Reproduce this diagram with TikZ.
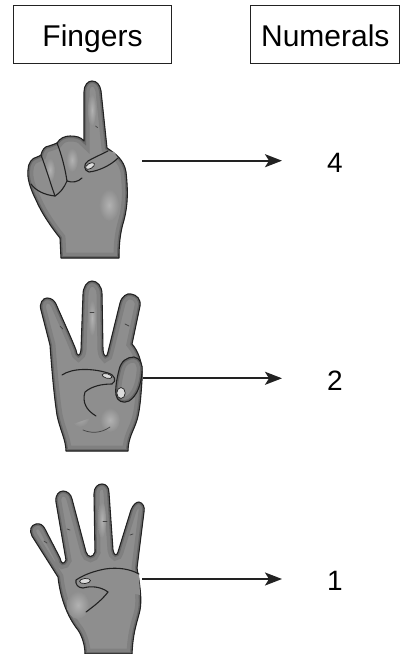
\documentclass[tikz,border=0pt]{standalone}
\usepackage{fontspec}
\setmainfont{Liberation Sans}
\usetikzlibrary{arrows.meta}

\definecolor{ink}{HTML}{222222}
\definecolor{skinbase}{HTML}{8E8E8E}
\definecolor{skinhi}{HTML}{B2B2B2}
\definecolor{skinmid}{HTML}{808080}
\definecolor{skinlo}{HTML}{686868}
\definecolor{nailgray}{HTML}{DCDCDC}

\tikzset{
  titlebox/.style={draw=ink, line width=1pt, inner sep=0pt, minimum height=58pt,
    text height=24pt, text depth=0pt, font=\fontsize{30}{36}\selectfont},
  numeral/.style={inner sep=0pt, anchor=base, font=\fontsize{28}{34}\selectfont},
  pointer/.style={draw=ink, line width=1.9pt, shorten >=45pt,
    -{Stealth[length=17pt,width=13pt,inset=4pt]}},
  rimwide/.style={draw=skinmid, line width=11pt},
  rimnarrow/.style={draw=skinlo, line width=4pt},
  glow/.style={inner color=skinhi, outer color=skinbase},
  contour/.style={draw=ink, line width=1.1pt, line cap=round, line join=round},
  crease/.style={draw=ink!85, line width=0.7pt, line cap=round},
  nail/.style={draw=ink, line width=0.7pt, fill=nailgray},
}

% flat skin fill with a darker rim just inside the outline
\newcommand\skinpatch[1]{%
  \fill[skinbase] #1;
  \begin{scope}
    \clip #1;
    \draw[rimwide] #1;
    \draw[rimnarrow] #1;
  \end{scope}}

\begin{document}
\begin{tikzpicture}[x=1pt, y=-1pt]
\useasboundingbox (0,0) rectangle (406,654);

% column headings
\node[titlebox, minimum width=158pt] (fingers) at (92.5,34) {Fingers};
\node[titlebox, minimum width=149pt] (numerals) at (325.3,34) {Numerals};

% ---------- hand 1: index finger raised, fist ----------
\def\handA{(61,258) -- (60,238) .. controls (52,228) and (42,214) .. (36,200)
  .. controls (30,188) and (27,178) .. (28,170)
  .. controls (28,163) and (32,158) .. (37,157)
  .. controls (39,156) and (40,156) .. (41,155)
  .. controls (42,150) and (45,146) .. (49,146)
  .. controls (52,145) and (55,144) .. (57,143)
  .. controls (60,138) and (65,136) .. (70,136)
  .. controls (76,136) and (81,137) .. (84,141)
  -- (84,92) .. controls (84,85) and (88,81) .. (92,81)
  .. controls (97,81) and (100,85) .. (101,91)
  -- (107,148) .. controls (116,154) and (124,160) .. (126,172)
  .. controls (128,190) and (128,205) .. (124,220)
  .. controls (121,230) and (119,240) .. (119,258) -- cycle}
\skinpatch{\handA}
\shade[glow] (109,205) ellipse [x radius=10pt, y radius=16pt];
\shade[glow] (92,110) ellipse [x radius=4pt, y radius=16pt];
\shade[glow] (72,160) ellipse [x radius=6pt, y radius=12pt];
\shade[glow] (50,170) ellipse [x radius=5pt, y radius=12pt];
\draw[contour] \handA;
% curled fingers
\draw[contour] (41,155) .. controls (46,168) and (50,182) .. (55,196);
\draw[contour] (57,143) .. controls (62,156) and (65,168) .. (67,181);
\draw[contour] (31,184) .. controls (36,191) and (45,195) .. (55,196);
\draw[contour] (55,196) .. controls (60,193) and (64,188) .. (67,181);
\draw[contour] (67,181) .. controls (72,183) and (78,182) .. (82,178);
\draw[crease] (95.5,126) -- (97.5,127.5);
% thumb over the fist
\def\thumbA{(108,151) .. controls (100,155) and (93,158) .. (88,161)
  .. controls (83,164) and (84,171) .. (89,172)
  .. controls (98,171) and (110,166) .. (118,158) -- (114,152) -- cycle}
\fill[skinbase] \thumbA;
\draw[contour] (108,151) .. controls (100,155) and (93,158) .. (88,161)
  .. controls (83,164) and (84,171) .. (89,172)
  .. controls (98,171) and (110,166) .. (118,158);
\path[nail] (90,166) ellipse [x radius=5pt, y radius=2.6pt, rotate=30];

% ---------- hand 2: three fingers raised ----------
\def\handB{(66,451) .. controls (66,440) and (60,430) .. (57,415)
  .. controls (54,395) and (52,372) .. (50,345)
  -- (41,310) .. controls (39,303) and (43,298) .. (47,298)
  .. controls (51,298) and (54,300) .. (56,304)
  .. controls (62,318) and (70,335) .. (76,350)
  .. controls (77,357) and (80,357) .. (81,350)
  -- (83,295) .. controls (83,287) and (87,281) .. (92,281)
  .. controls (97,281) and (102,286) .. (102,294)
  -- (103,350) .. controls (104,358) and (107,358) .. (108,352)
  -- (120,303) .. controls (122,296) and (127,293) .. (131,294)
  .. controls (137,295) and (141,299) .. (140,306)
  -- (132,344) .. controls (137,350) and (143,360) .. (142,380)
  .. controls (141,395) and (140,410) .. (137,420)
  .. controls (134,430) and (128,438) .. (128,451) -- cycle}
\skinpatch{\handB}
\shade[glow] (80,415) ellipse [x radius=10pt, y radius=12pt];
\shade[glow] (110,420) ellipse [x radius=10pt, y radius=12pt];
\shade[glow] (92,318) ellipse [x radius=4pt, y radius=18pt];
\draw[contour] \handB;
\draw[crease] (60,326) -- (63,329);
\draw[crease] (90,312) -- (94,312);
\draw[crease] (125,324) -- (129,326);
\draw[crease] (83,430) .. controls (90,433) and (100,434) .. (110,427);
% little finger folded down
\def\pinkyB{(119,370) .. controls (121,361) and (127,357) .. (134,357)
  .. controls (140,358) and (143,364) .. (142,372)
  .. controls (141,385) and (137,396) .. (129,401)
  .. controls (123,404) and (117,401) .. (116,395)
  .. controls (115,388) and (117,378) .. (119,370) -- cycle}
\skinpatch{\pinkyB}
\draw[contour] \pinkyB;
\path[nail] (121,393) ellipse [x radius=4.2pt, y radius=5.5pt];
% thumb across the palm
\def\thumbB{(62,375) .. controls (72,368) and (92,368) .. (108,373)
  .. controls (115,375) and (117,381) .. (112,384)
  .. controls (102,384) and (92,386) .. (85,392)
  .. controls (82,402) and (86,410) .. (96,416) -- (70,425) -- cycle}
\fill[skinbase] \thumbB;
\draw[contour] (62,375) .. controls (72,368) and (92,368) .. (108,373)
  .. controls (115,375) and (117,381) .. (112,384)
  .. controls (102,384) and (92,386) .. (85,392)
  .. controls (82,402) and (86,410) .. (96,416);
\path[nail] (107,376) ellipse [x radius=5pt, y radius=2.2pt, rotate=-15];

% ---------- hand 3: four fingers raised ----------
\def\handC{(85,654) .. controls (85,645) and (82,636) .. (78,630)
  .. controls (66,615) and (60,595) .. (58,577)
  -- (32,536) .. controls (29,530) and (31,525) .. (36,524)
  .. controls (40,523) and (43,525) .. (45,529)
  -- (60,558) .. controls (61,564) and (64,565) .. (66,560)
  -- (56,502) .. controls (55,495) and (59,491) .. (63,491)
  .. controls (67,491) and (71,494) .. (72,499)
  -- (86,552) .. controls (88,558) and (93,558) .. (95,552)
  -- (94,494) .. controls (94,487) and (98,484) .. (102,484)
  .. controls (106,484) and (109,487) .. (109,493)
  -- (113,550) .. controls (114,556) and (117,556) .. (118,552)
  -- (131,510) .. controls (133,505) and (136,502) .. (139,502)
  .. controls (143,503) and (145,507) .. (144,512)
  -- (137,568) .. controls (140,585) and (142,600) .. (140,610)
  .. controls (138,620) and (133,630) .. (132,654) -- cycle}
\skinpatch{\handC}
\shade[glow] (78,605) ellipse [x radius=11pt, y radius=14pt];
\shade[glow] (102,520) ellipse [x radius=4pt, y radius=18pt];
\draw[contour] \handC;
\draw[crease] (44,541) -- (47,543);
\draw[crease] (67,529) -- (70,530);
\draw[crease] (103,521) -- (107,521);
\draw[crease] (130,535) -- (133,534);
% thumb folded over the palm
\def\thumbC{(76,580) .. controls (85,574) and (95,571) .. (105,569)
  .. controls (118,567) and (130,569) .. (139,574) -- (140,595)
  .. controls (130,592) and (118,594) .. (108,592)
  .. controls (100,586) and (90,586) .. (83,588)
  .. controls (78,588) and (75,584) .. (76,580) -- cycle}
\fill[skinbase] \thumbC;
\draw[contour] (139,574) .. controls (130,569) and (118,567) .. (105,569)
  .. controls (95,571) and (85,574) .. (76,580)
  .. controls (75,584) and (78,588) .. (83,588)
  .. controls (90,586) and (100,586) .. (108,592);
\draw[contour] (108,592) .. controls (102,600) and (94,606) .. (86,612);
\path[nail] (85,581) ellipse [x radius=5.5pt, y radius=2.5pt, rotate=5];

% numerals and pointers
\node[numeral] (n4) at (335,172.7) {4};
\node[numeral] (n2) at (335,390) {2};
\node[numeral] (n1) at (335,590.7) {1};

\coordinate (h1) at (142,160.7);
\coordinate (h2) at (143,378.3);
\coordinate (h3) at (142,579);

\draw[pointer] (h1) -- (h1 -| n4.west);
\draw[pointer] (h2) -- (h2 -| n2.west);
\draw[pointer] (h3) -- (h3 -| n1.west);
\end{tikzpicture}
\end{document}
